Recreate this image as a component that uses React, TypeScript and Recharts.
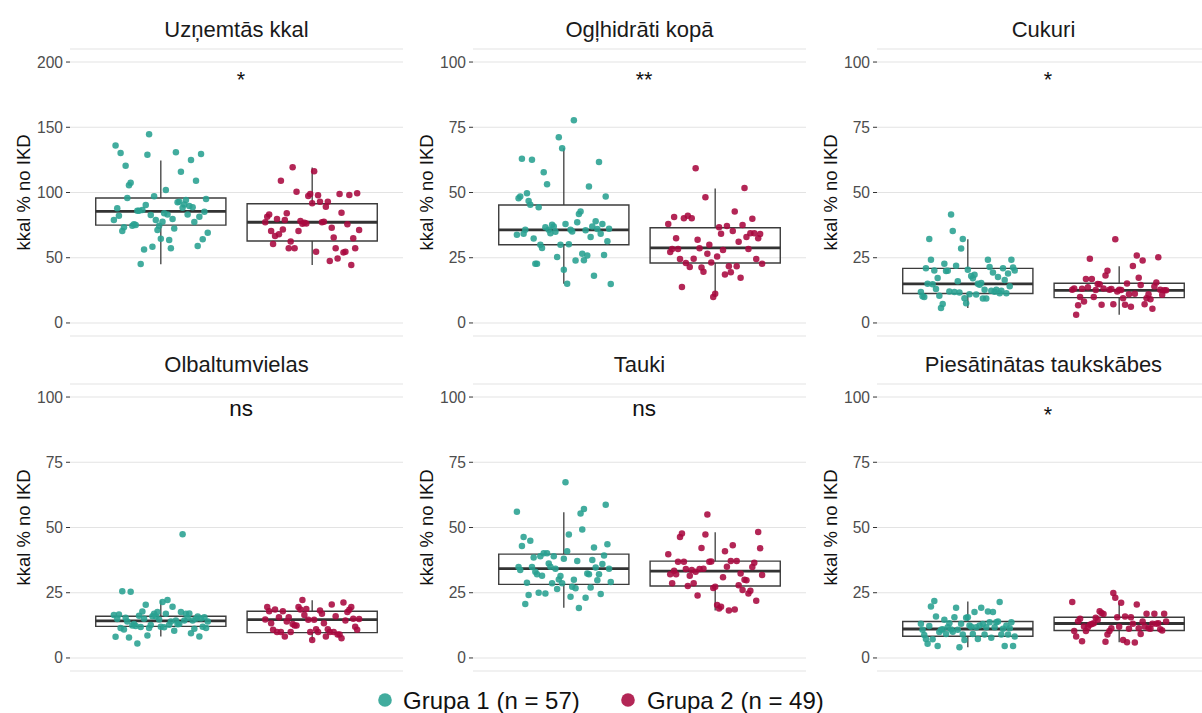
import {
  ComposedChart,
  Scatter,
  XAxis,
  YAxis,
  CartesianGrid,
  ReferenceArea,
  ReferenceLine,
  ReferenceDot,
} from "recharts"

// facet titles, significance labels and y-axis top per facet
const titles = [
  "Uzņemtās kkal",
  "Ogļhidrāti kopā",
  "Cukuri",
  "Olbaltumvielas",
  "Tauki",
  "Piesātinātas taukskābes",
]
const signif = ["*", "**", "*", "ns", "ns", "*"]
const yTop = [200, 100, 100, 100, 100, 100]

const groupNames = ["Grupa 1 (n = 57)", "Grupa 2 (n = 49)"]
const groupColors = ["#28A091", "#A8083F"]

// individual values per facet, listed left to right as they sit in the jitter
const kcalG1 = [78.9, 136, 87.9, 82.2, 130.3, 70.5, 73.3, 120.6, 95.8, 105.5, 107.5, 74.6, 75.6, 75.1, 86, 86.1, 45.1, 86.6, 56.4, 90.4, 129, 144.6, 82.7, 58.4, 97.1, 78.9, 71.2, 74.6, 64.6, 77.6, 84, 101.9, 83.2, 63.6, 57.2, 79.7, 72.5, 130.8, 92.5, 93, 116, 88.4, 90.8, 94.2, 83.2, 89.6, 125, 88.6, 77.4, 109.1, 58.9, 81.5, 129.5, 64.1, 85.3, 95, 69.2]
const kcalG2 = [77.1, 81.5, 83.2, 70.5, 60.5, 66.6, 79.7, 68, 109.1, 71.7, 78.9, 84, 57.2, 62.5, 119.3, 57.2, 100.6, 70.5, 78.1, 76, 76.9, 76.3, 97.3, 98.8, 91.7, 116.2, 54.6, 97.8, 93, 77.1, 77.6, 89.1, 93, 47.4, 73, 65.6, 57.2, 49.4, 98.8, 84.5, 54.1, 54.6, 75.6, 98.1, 44.4, 65, 57.2, 99.4, 71.2]

const carbG1 = [33.8, 47.8, 48.5, 62.9, 34.2, 35.7, 49.7, 46.7, 45.3, 62.6, 32.4, 22.7, 22.7, 44.3, 30, 28.7, 57.8, 36.7, 53.2, 35.7, 34.4, 37.6, 37, 35, 25.3, 71.2, 30, 67, 20.4, 37.9, 15, 30.2, 35.7, 35.1, 77.7, 23.9, 38.6, 41.8, 42.7, 26.5, 24, 35.5, 25.9, 52.3, 32.9, 37, 18.1, 39, 36, 61.7, 34.2, 37.9, 26, 48.5, 31.3, 36.1, 14.9]
const carbG2 = [37.9, 27.2, 28.3, 40.6, 32.5, 28.3, 24.5, 13.8, 40.1, 23, 41.1, 21.4, 40.1, 24.6, 59.3, 31.9, 28.6, 21.3, 19.6, 48.2, 26.5, 30, 23.2, 9.9, 11.2, 25.5, 36.7, 34.2, 28, 18.6, 37.2, 21.7, 19.4, 35.2, 42.7, 21.7, 31.1, 17.3, 37.5, 51.7, 32.9, 28.3, 34.4, 39.9, 34.4, 24.5, 32.5, 34.1, 22.7]

const sugarG1 = [11.9, 10.2, 9.9, 21, 15, 32.2, 24.2, 14.8, 20.1, 13, 17.2, 10.4, 5.7, 7.3, 22.7, 19.9, 20, 12.1, 41.6, 35.2, 11.9, 21.9, 16, 11.7, 28.5, 32.2, 9.5, 7.6, 20.4, 11, 18, 17.1, 18.5, 10.9, 15, 14.6, 15.3, 9.4, 12.7, 9.4, 24.2, 21.4, 12.3, 19.3, 12, 12.7, 17.6, 11.4, 12.3, 21, 16.5, 11.4, 19, 14.1, 24.2, 21.3, 20.1]
const sugarG2 = [12.7, 13.2, 3.1, 6.8, 9.9, 13.1, 8.2, 16.8, 13.7, 24.6, 16.8, 9.9, 12.6, 14.9, 14.8, 7, 13.2, 18.2, 20, 12.7, 13, 7.2, 32.1, 12.1, 12.7, 12.6, 9.5, 7, 15.1, 11, 6.2, 21.8, 11.2, 25.9, 17.3, 14.5, 23.9, 7.2, 9.5, 11, 9.1, 5.4, 14, 15.5, 25.2, 12.7, 10.8, 12.5, 12.5]

const protG1 = [16.5, 8.1, 14.9, 16.7, 11.5, 25.6, 10.9, 15.4, 14, 7.8, 25.4, 12.4, 13, 12.2, 5.5, 16.2, 11.9, 17.8, 15, 20.4, 8.6, 11.5, 12.6, 16, 16.9, 15.9, 17.6, 14.7, 12, 21.4, 11.8, 16.9, 22.2, 12.7, 14, 19.6, 10.4, 14.4, 12.9, 13, 17.6, 47.4, 14.4, 16.9, 15.3, 17, 9.5, 14.4, 11.2, 15, 15.9, 8.2, 15.1, 12, 15.6, 11.5, 14]
const protG2 = [14.7, 19.5, 17.9, 13.3, 10.8, 18.6, 9.9, 15.6, 9.9, 17.9, 8.2, 14, 15.6, 9.9, 13, 12.4, 12.4, 19.5, 18.6, 22.2, 16.5, 18.8, 14.6, 9.9, 6.9, 14.6, 11, 9.9, 18.2, 16.9, 13.3, 8.2, 11, 9.9, 20.5, 9.9, 16, 9, 9, 7.6, 21.3, 14.4, 17.6, 18.5, 19.5, 15, 12, 10.8, 14.9]

const fatG1 = [56, 34.9, 33.7, 42.9, 46.4, 20.7, 28.8, 24.1, 44.9, 34.9, 38.5, 33, 32.1, 25, 39, 31.5, 40.1, 24.7, 40.1, 36.2, 35, 28.6, 39, 34.2, 26.4, 30.1, 31.4, 28.6, 38, 67.3, 40.9, 47.3, 23.5, 27.3, 30, 26.7, 37.2, 19.1, 55.4, 49.2, 57.1, 23.1, 32.4, 32.1, 27, 37.5, 42.3, 34.7, 29.8, 32.1, 24.5, 36, 39.3, 58.7, 43.6, 34.2, 29.1]
const fatG2 = [39.7, 32.1, 28.6, 33.4, 32.1, 36.9, 46.4, 47.7, 36.9, 34.1, 27.6, 31.5, 33.7, 28.6, 33, 23.9, 34.1, 42.1, 34.2, 47.3, 55, 36.9, 37, 26.8, 27.3, 20.3, 19, 19.6, 30.9, 40.9, 35, 18.2, 37.2, 43.2, 18.6, 37.2, 27.9, 32.4, 26, 30, 29.8, 24.7, 25.8, 34.9, 36.5, 21.9, 48.3, 42, 31.8]

const satG1 = [13.1, 10.8, 8.8, 7.3, 5.4, 12.2, 19.7, 7.2, 21.8, 15.9, 4.6, 9.9, 10.8, 11, 14.6, 9.2, 11.8, 13.3, 10.9, 10, 15.6, 19.2, 10.8, 4.1, 13.1, 9, 6.9, 15.4, 15.6, 12.4, 12, 9.2, 17.6, 11.8, 7.3, 12.4, 19.2, 13, 9, 11.8, 17.8, 13.7, 7.7, 17.6, 11.8, 13.7, 14, 21.4, 9, 11.2, 4.6, 12.4, 9, 11.4, 13.7, 4.6, 8.2]
const satG2 = [21.4, 10.3, 8.2, 14.1, 15, 6.4, 12.1, 10.3, 11.8, 12.7, 13, 13.3, 15.4, 14.6, 17.9, 17.2, 16.8, 6.2, 9, 10.3, 11.4, 24.9, 23.1, 15.6, 12, 21.2, 6.9, 15.9, 6, 11.2, 15.6, 13.1, 5.9, 20.5, 11.4, 9.2, 14, 12.1, 16.9, 11.4, 11.2, 13.1, 16.9, 13.1, 13.3, 11, 10.5, 16.9, 14]

// box stats: [lower whisker, q1, median, q3, upper whisker]
const boxG1 = [
  [45, 75, 85.5, 95.8, 124.6],
  [15, 30, 35.7, 45.2, 67],
  [5.7, 11.3, 15, 20.9, 32.1],
  [8.2, 12.1, 14.2, 16, 22],
  [19.2, 28.2, 34.2, 39.8, 55.8],
  [4.1, 8.3, 11.1, 14, 21.6],
]
const boxG2 = [
  [44.4, 62.8, 77.2, 91.4, 119.2],
  [9.9, 23, 28.8, 36.5, 51.5],
  [3.1, 9.7, 12.5, 15.2, 21.7],
  [6.9, 9.7, 14.7, 17.9, 22.1],
  [18.2, 27.6, 33.3, 37.1, 48.2],
  [6, 10.5, 13.2, 15.6, 21],
]

const valuesG1 = [kcalG1, carbG1, sugarG1, protG1, fatG1, satG1]
const valuesG2 = [kcalG2, carbG2, sugarG2, protG2, fatG2, satG2]

// layout
const PLOT_LEFT = [70, 473, 877]
const PLOT_TOP = [49, 384]
const PLOT_W = 333
const PLOT_H = 287
const AXIS_W = 70
const XAXIS_H = 12
const JITTER = 0.31
const BOX_HALF = 0.43
const BOX_STROKE = "#3c3c3c"
const FONT = '"Liberation Sans", Arial, Helvetica, sans-serif'

function jittered(values: number[], group: number) {
  const n = values.length
  return values.map((y, i) => ({
    x: group - JITTER + (2 * JITTER * i) / (n - 1),
    y,
  }))
}

function Panel({ idx }: { idx: number }) {
  const col = idx % 3
  const row = Math.floor(idx / 3)
  const top = yTop[idx]
  const pad = top * 0.05
  const ticks = [0, 0.25, 0.5, 0.75, 1].map((f) => f * top)
  const groups = [valuesG1[idx], valuesG2[idx]]
  const boxes = [boxG1[idx], boxG2[idx]]
  const sig = signif[idx]

  return (
    <div
      style={{
        position: "absolute",
        left: PLOT_LEFT[col] - AXIS_W,
        top: PLOT_TOP[row] - 49,
      }}
    >
      <ComposedChart
        width={AXIS_W + PLOT_W}
        height={49 + PLOT_H + XAXIS_H}
        margin={{ top: 49, right: 0, bottom: 0, left: 0 }}
      >
        <CartesianGrid vertical={false} stroke="#E3E3E3" strokeWidth={1.1} />
        <XAxis
          type="number"
          dataKey="x"
          domain={[0.4, 2.6]}
          ticks={[1, 2]}
          tick={false}
          tickLine={{ stroke: "#333" }}
          tickSize={4}
          axisLine={false}
          height={XAXIS_H}
          allowDataOverflow
        />
        <YAxis
          type="number"
          dataKey="y"
          domain={[-pad, top + pad]}
          ticks={ticks}
          interval={0}
          width={AXIS_W}
          tickSize={4}
          tickMargin={3}
          axisLine={false}
          tickLine={{ stroke: "#333" }}
          tick={{ fill: "#4D4D4D", fontSize: 15.6 }}
          allowDataOverflow
        />

        {/* jittered points */}
        {groups.map((vals, gi) => (
          <Scatter
            key={`pts-${gi}`}
            data={jittered(vals, gi + 1)}
            isAnimationActive={false}
            shape={(p: any) => (
              <circle
                cx={p.cx}
                cy={p.cy}
                r={3.25}
                fill={groupColors[gi]}
                fillOpacity={0.88}
              />
            )}
          />
        ))}

        {/* box plots */}
        {boxes.map(([lo, q1, med, q3, hi], gi) => {
          const cx = gi + 1
          return [
            <ReferenceArea
              key={`box-${gi}`}
              x1={cx - BOX_HALF}
              x2={cx + BOX_HALF}
              y1={q1}
              y2={q3}
              fill="none"
              fillOpacity={0}
              stroke={BOX_STROKE}
              strokeWidth={1.4}
            />,
            <ReferenceLine
              key={`wu-${gi}`}
              segment={[
                { x: cx, y: q3 },
                { x: cx, y: hi },
              ]}
              stroke={BOX_STROKE}
              strokeWidth={1.3}
            />,
            <ReferenceLine
              key={`wl-${gi}`}
              segment={[
                { x: cx, y: lo },
                { x: cx, y: q1 },
              ]}
              stroke={BOX_STROKE}
              strokeWidth={1.3}
            />,
            <ReferenceLine
              key={`med-${gi}`}
              segment={[
                { x: cx - BOX_HALF, y: med },
                { x: cx + BOX_HALF, y: med },
              ]}
              stroke="#333"
              strokeWidth={2.8}
            />,
          ]
        })}

        {/* significance label */}
        <ReferenceDot
          x={1.53}
          y={top * 0.95}
          r={0}
          shape={(p: any) => (
            <text
              x={p.cx}
              y={p.cy}
              dy={sig === "ns" ? 6.2 : 11.5}
              textAnchor="middle"
              fontSize={sig === "ns" ? 22.5 : 21.5}
              fill="#111"
            >
              {sig}
            </text>
          )}
        />
      </ComposedChart>
    </div>
  )
}

export default function App() {
  return (
    <div
      style={{
        position: "absolute",
        left: 0,
        top: 0,
        width: 1202,
        height: 713,
        overflow: "hidden",
        background: "#fff",
        fontFamily: FONT,
      }}
    >
      {titles.map((_, i) => (
        <Panel key={i} idx={i} />
      ))}

      {/* facet titles, axis titles and legend */}
      <svg
        width={1202}
        height={713}
        style={{ position: "absolute", left: 0, top: 0, pointerEvents: "none" }}
        fontFamily={FONT}
      >
        {titles.map((t, i) => {
          const col = i % 3
          const row = Math.floor(i / 3)
          return (
            <text
              key={`t-${i}`}
              x={PLOT_LEFT[col] + PLOT_W / 2}
              y={row === 0 ? 36.7 : 371.7}
              textAnchor="middle"
              fontSize={22}
              fill="#1A1A1A"
            >
              {t}
            </text>
          )
        })}
        {titles.map((_, i) => {
          const col = i % 3
          const row = Math.floor(i / 3)
          return (
            <text
              key={`y-${i}`}
              transform={`translate(${PLOT_LEFT[col] - 40}, ${PLOT_TOP[row] + PLOT_H / 2}) rotate(-90)`}
              textAnchor="middle"
              fontSize={18.5}
              fill="#111"
            >
              kkal % no IKD
            </text>
          )
        })}

        {/* legend */}
        {groupNames.map((name, gi) => (
          <g key={`lg-${gi}`}>
            <circle
              cx={gi === 0 ? 385 : 628}
              cy={700}
              r={6.8}
              fill={groupColors[gi]}
              fillOpacity={0.88}
            />
            <text
              x={gi === 0 ? 403 : 647}
              y={708.5}
              fontSize={24}
              fill="#111"
            >
              {name}
            </text>
          </g>
        ))}
      </svg>
    </div>
  )
}
